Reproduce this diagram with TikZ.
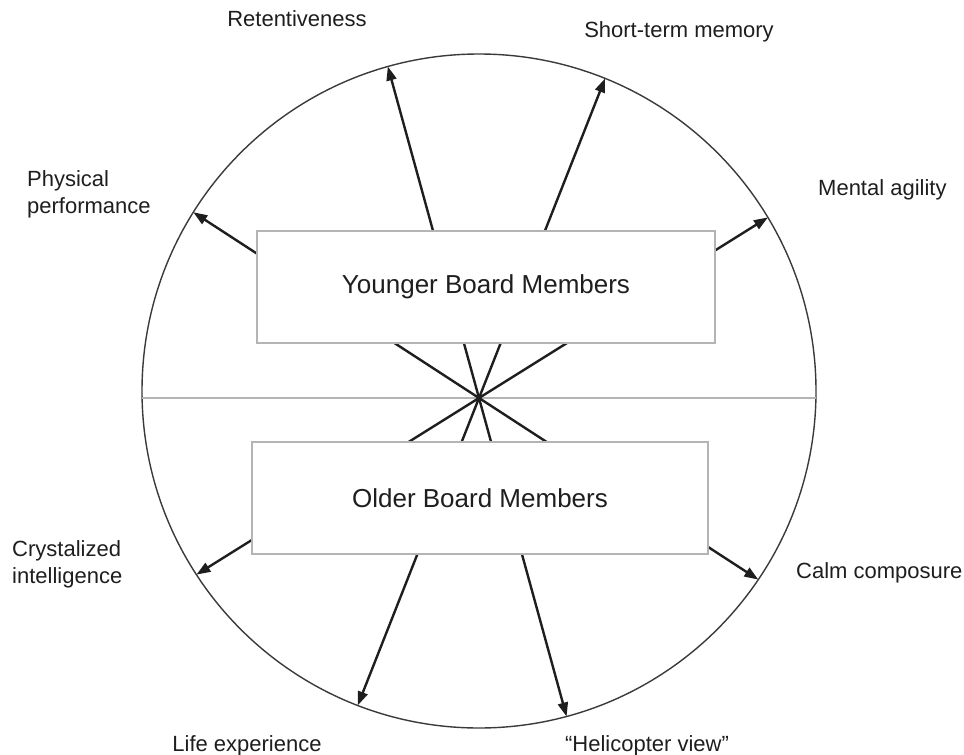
\documentclass[tikz,border=0pt]{standalone}
\usepackage{fontspec}
\setmainfont{Liberation Sans}
\usetikzlibrary{arrows.meta,intersections,calc}
\definecolor{ink}{HTML}{1E1E1E}
\definecolor{rim}{HTML}{3A3A3A}
\definecolor{pale}{HTML}{B4B4B4}
\begin{document}
\begin{tikzpicture}[x=1pt,y=-1pt,
 lbl/.style={font=\fontsize{22}{27}\selectfont, text=ink, inner sep=0pt},
 boxstyle/.style={draw=pale, line width=1.6pt, fill=white, font=\fontsize{26}{30}\selectfont, text=ink},
 dblarrow/.style={draw=ink, line width=2.4pt, {Triangle[length=14pt,width=10pt]}-{Triangle[length=14pt,width=10pt]}}]
\useasboundingbox (0,0) rectangle (964,755);
\coordinate (C) at (479,391);
\draw[rim, line width=1.4pt, name path=rimpath] (C) circle[radius=337pt];
\coordinate (hl) at (142.1,398);
\coordinate (hr) at (815.9,398);
\draw[pale, line width=1.6pt] (hl) -- (hr);
% four straight lines through the crossing point, arrows at both ends
\path[name path=l1] (369,-2) -- (589,798);
\path[name path=l2] (636.8,-2) -- (321.2,798);
\path[name path=l3] (17.6,98) -- (940.4,698);
\path[name path=l4] (959,98) -- (-1,698);
\path[name intersections={of=rimpath and l1, name=a}];
\path[name intersections={of=rimpath and l2, name=b}];
\path[name intersections={of=rimpath and l3, name=c}];
\path[name intersections={of=rimpath and l4, name=d}];
\draw[dblarrow] (a-1) -- (a-2);
\draw[dblarrow] (b-1) -- (b-2);
\draw[dblarrow] (c-1) -- (c-2);
\draw[dblarrow] (d-1) -- (d-2);
% boxes
\node[boxstyle, minimum width=458pt, minimum height=112pt] (young) at (486,287) {Younger Board Members};
\node[boxstyle, minimum width=456pt, minimum height=112pt] (old) at (480,498) {Older Board Members};
% labels
\node[lbl, anchor=base] (ret) at (297,26) {Retentiveness};
\node[lbl, anchor=base] (stm) at (679,37) {Short-term memory};
\node[lbl, anchor=base west, align=left] (phys) at (27,213) {Physical\\performance};
\node[lbl, anchor=base west] (ment) at (818,195) {Mental agility};
\node[lbl, anchor=base west, align=left] (crys) at (12,583) {Crystalized\\intelligence};
\node[lbl, anchor=base west] (calm) at (796,578) {Calm composure};
\node[lbl, anchor=base] (life) at (247,751) {Life experience};
\node[lbl, anchor=base] (heli) at (647,751) {“Helicopter view”};
\end{tikzpicture}
\end{document}
